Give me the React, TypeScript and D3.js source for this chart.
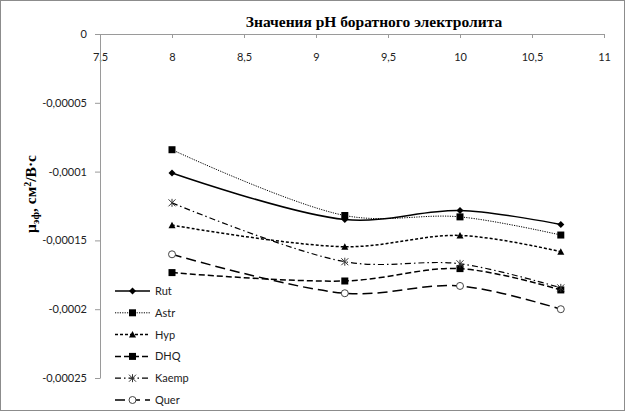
import React, { useRef, useEffect } from 'react';
import * as d3 from 'd3';

// pH values of the borate buffer
const phValues = [8, 9.2, 10, 10.7];

// series names and mobility values
const seriesNames = ['Rut', 'Astr', 'Hyp', 'DHQ', 'Kaemp', 'Quer'];
const rutValues = [-0.000101, -0.0001348, -0.0001283, -0.0001384];
const astrValues = [-0.0000841, -0.0001319, -0.0001329, -0.0001461];
const hypValues = [-0.0001389, -0.0001546, -0.0001464, -0.0001582];
const dhqValues = [-0.0001734, -0.0001795, -0.0001705, -0.000186];
const kaempValues = [-0.0001227, -0.0001655, -0.000167, -0.0001845];
const querValues = [-0.0001601, -0.0001884, -0.0001831, -0.0002];

// tick labels
const xTicks = [7.5, 8, 8.5, 9, 9.5, 10, 10.5, 11];
const yTicks = [0, -0.00005, -0.0001, -0.00015, -0.0002, -0.00025];
const yTickLabels = ['0', '-0,00005', '-0,0001', '-0,00015', '-0,0002', '-0,00025'];

const App: React.FC = () => {
    const svgRef = useRef<SVGSVGElement | null>(null);

    useEffect(() => {
        if (!svgRef.current) return;
        const svg = d3.select(svgRef.current);
        svg.selectAll('*').remove();

        const width = 625;
        const height = 411;
        const sans = 'Lato, "Liberation Sans", sans-serif';
        const serif = '"Liberation Serif", "Times New Roman", serif';
        const axisColor = '#9a9a9a';

        // outer frame
        svg.append('rect')
            .attr('x', 0.5)
            .attr('y', 0.5)
            .attr('width', width - 1)
            .attr('height', height - 1)
            .attr('fill', '#fff')
            .attr('stroke', '#8c8c8c');

        const x = d3.scaleLinear().domain([7.5, 11]).range([100, 604]);
        const y = d3.scaleLinear().domain([-0.00025, 0]).range([378, 34]);

        // title
        svg.append('text')
            .attr('x', 374)
            .attr('y', 27)
            .attr('text-anchor', 'middle')
            .attr('font-family', serif)
            .attr('font-weight', 'bold')
            .attr('font-size', 15.5)
            .text('Значения pH боратного электролита');

        // x axis along y = 0
        const xAxis = svg.append('g').attr('transform', `translate(0,${y(0)})`);
        xAxis.call(
            d3.axisBottom(x)
                .tickValues(xTicks)
                .tickSize(4)
                .tickPadding(15)
                .tickFormat((d) => String(d).replace('.', ',')),
        );
        xAxis.select('.domain').attr('stroke', axisColor);
        xAxis.selectAll('.tick line').attr('stroke', axisColor);
        xAxis.selectAll('.tick text')
            .attr('fill', '#222')
            .attr('font-family', sans)
            .attr('font-size', 11);

        // y axis
        const yAxis = svg.append('g').attr('transform', `translate(${x(7.5)},0)`);
        yAxis.call(
            d3.axisLeft(y)
                .tickValues(yTicks)
                .tickSize(5)
                .tickSizeOuter(0)
                .tickPadding(8)
                .tickFormat((_d, i) => yTickLabels[i]),
        );
        yAxis.select('.domain').attr('stroke', axisColor);
        yAxis.selectAll('.tick line').attr('stroke', axisColor);
        yAxis.selectAll('.tick text')
            .attr('fill', '#222')
            .attr('font-family', sans)
            .attr('font-size', 11);

        // y axis title
        const yTitle = svg.append('text')
            .attr('transform', 'translate(36,194) rotate(-90)')
            .attr('text-anchor', 'middle')
            .attr('font-family', serif)
            .attr('font-weight', 'bold')
            .attr('font-size', 15.5);
        yTitle.append('tspan').text('μ');
        yTitle.append('tspan').attr('font-size', 11).attr('dy', 3).text('эф');
        yTitle.append('tspan').attr('dy', -3).text(', см');
        yTitle.append('tspan').attr('font-size', 10).attr('dy', -5).text('2');
        yTitle.append('tspan').attr('dy', 5).text('/В·с');

        const values = [rutValues, astrValues, hypValues, dhqValues, kaempValues, querValues];
        const dashes = ['none', '1.2,1.2', '3,2', '6,3', '6,3,1.5,3', '10,5'];
        const widths = [1.5, 1, 1.5, 1.5, 1.2, 1.5];

        const line = d3
            .line<number>()
            .x((_d, i) => x(phValues[i]))
            .y((d) => y(d))
            .curve(d3.curveCatmullRom.alpha(0.5));

        // marker drawing
        const drawMarker = (
            g: d3.Selection<SVGGElement, unknown, null, undefined>,
            k: number,
            cx: number,
            cy: number,
        ) => {
            if (k === 0) {
                g.append('path')
                    .attr('d', `M${cx},${cy - 3.5}L${cx + 3.5},${cy}L${cx},${cy + 3.5}L${cx - 3.5},${cy}Z`)
                    .attr('fill', '#000');
            } else if (k === 1 || k === 3) {
                g.append('rect')
                    .attr('x', cx - 3.5)
                    .attr('y', cy - 3.5)
                    .attr('width', 7)
                    .attr('height', 7)
                    .attr('fill', '#000');
            } else if (k === 2) {
                g.append('path')
                    .attr('d', `M${cx},${cy - 3.5}L${cx + 3.5},${cy + 3}L${cx - 3.5},${cy + 3}Z`)
                    .attr('fill', '#000');
            } else if (k === 4) {
                g.append('path')
                    .attr('d', `M${cx - 3.5},${cy - 3.5}L${cx + 3.5},${cy + 3.5}M${cx + 3.5},${cy - 3.5}L${cx - 3.5},${cy + 3.5}M${cx},${cy - 4}L${cx},${cy + 4}`)
                    .attr('stroke', '#333')
                    .attr('stroke-width', 1)
                    .attr('fill', 'none');
            } else {
                g.append('circle')
                    .attr('cx', cx)
                    .attr('cy', cy)
                    .attr('r', 3.5)
                    .attr('fill', '#fff')
                    .attr('stroke', '#444')
                    .attr('stroke-width', 1);
            }
        };

        const plot = svg.append('g');
        values.forEach((vals, k) => {
            plot.append('path')
                .attr('d', line(vals))
                .attr('fill', 'none')
                .attr('stroke', '#000')
                .attr('stroke-width', widths[k])
                .attr('stroke-dasharray', dashes[k]);
        });
        values.forEach((vals, k) => {
            const g = plot.append('g');
            vals.forEach((v, i) => drawMarker(g, k, x(phValues[i]), y(v)));
        });

        // legend
        const legend = svg.append('g');
        seriesNames.forEach((name, k) => {
            const ly = 291 + k * 21.8;
            legend.append('line')
                .attr('x1', 115)
                .attr('x2', 150)
                .attr('y1', ly)
                .attr('y2', ly)
                .attr('stroke', '#000')
                .attr('stroke-width', widths[k])
                .attr('stroke-dasharray', dashes[k]);
            const g = legend.append('g');
            drawMarker(g, k, 132.5, ly);
            legend.append('text')
                .attr('x', 155)
                .attr('y', ly + 4)
                .attr('font-family', sans)
                .attr('font-size', 11)
                .attr('fill', '#222')
                .text(name);
        });
    }, []);

    return (
        <div style={{ position: 'absolute', left: 0, top: 0 }}>
            <svg ref={svgRef} width={625} height={411} style={{ display: 'block' }}></svg>
        </div>
    );
};

export default App;
